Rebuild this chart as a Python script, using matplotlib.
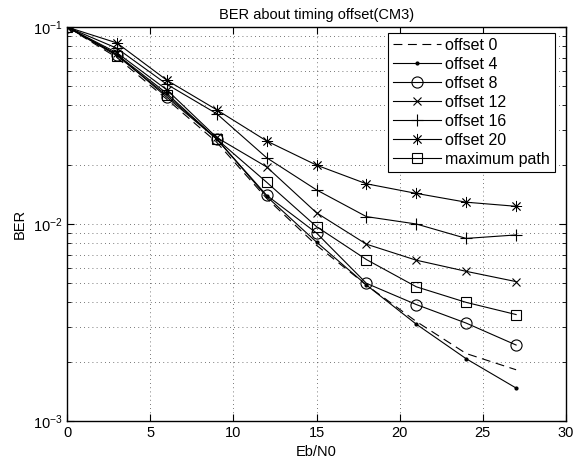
import matplotlib
matplotlib.use('Agg')
import matplotlib.pyplot as plt
import numpy as np

plt.rcParams['font.family'] = ['Liberation Sans', 'DejaVu Sans']
plt.rcParams['font.size'] = 10
plt.rcParams['mathtext.fontset'] = 'custom'
plt.rcParams['mathtext.rm'] = 'Liberation Sans'
plt.rcParams['mathtext.it'] = 'Liberation Sans:italic'
plt.rcParams['mathtext.bf'] = 'Liberation Sans:bold'

# Eb/N0 points and BER curves
ebn0 = [0, 3, 6, 9, 12, 15, 18, 21, 24, 27]

offset_0 = [0.1, 0.070, 0.043, 0.026, 0.0135, 0.0078, 0.0049, 0.0032, 0.0022, 0.00182]
offset_4 = [0.1, 0.0725, 0.046, 0.027, 0.0138, 0.0081, 0.0049, 0.0031, 0.00207, 0.00147]
offset_8 = [0.1, 0.0725, 0.044, 0.027, 0.0140, 0.0090, 0.0050, 0.0039, 0.00314, 0.00243]
offset_12 = [0.1, 0.074, 0.048, 0.0275, 0.0195, 0.0114, 0.0079, 0.00655, 0.00575, 0.0051]
offset_16 = [0.1, 0.078, 0.0512, 0.0363, 0.0217, 0.0149, 0.0109, 0.0100, 0.00845, 0.0088]
offset_20 = [0.1, 0.083, 0.0537, 0.038, 0.0264, 0.0199, 0.0160, 0.0143, 0.0129, 0.0123]
max_path = [0.1, 0.0715, 0.045, 0.027, 0.0163, 0.0097, 0.0066, 0.0048, 0.0040, 0.00347]

labels = ['offset 0', 'offset 4', 'offset 8', 'offset 12', 'offset 16', 'offset 20', 'maximum path']

fig = plt.figure(figsize=(5.8, 4.66), dpi=100)
ax = fig.add_axes([67/580, 1 - 421/466, (566 - 67)/580, (421 - 27)/466])

lw = 0.8
star = (8, 2, 0)  # asterisk like matlab's '*'
ax.semilogy(ebn0, offset_0, color='k', linestyle=(0, (8, 5)), lw=lw, label=labels[0])
ax.semilogy(ebn0, offset_4, 'k-', marker='.', ms=4, lw=lw, label=labels[1])
ax.semilogy(ebn0, offset_8, 'k-', marker='o', ms=8, mfc='none', mew=0.8, lw=lw, label=labels[2])
ax.semilogy(ebn0, offset_12, 'k-', marker='x', ms=6, mew=0.8, lw=lw, label=labels[3])
ax.semilogy(ebn0, offset_16, 'k-', marker='+', ms=9, mew=0.8, lw=lw, label=labels[4])
ax.semilogy(ebn0, offset_20, 'k-', marker=star, ms=8, mew=0.6, lw=lw, label=labels[5])
ax.semilogy(ebn0, max_path, 'k-', marker='s', ms=7, mfc='none', mew=0.8, lw=lw, label=labels[6])

ax.set_xlim(0, 30)
ax.set_ylim(1e-3, 1e-1)
ax.set_xticks([0, 5, 10, 15, 20, 25, 30])

grid_style = dict(linestyle=(0, (1, 4)), color='k', lw=0.6, alpha=0.7)
ax.grid(True, which='major', **grid_style)
ax.grid(True, which='minor', axis='y', **grid_style)
ax.tick_params(which='both', direction='in', top=True, right=True, labelsize=10.5)
ax.tick_params(which='major', length=5)
ax.tick_params(which='minor', length=3)
ax.tick_params(axis='x', which='minor', bottom=False, top=False)
for s in ax.spines.values():
    s.set_linewidth(1.0)

ax.set_title('BER about timing offset(CM3)', fontsize=10.5, pad=6)
ax.set_xlabel('Eb/N0', fontsize=10.5, labelpad=4)
ax.set_ylabel('BER', fontsize=10.5, labelpad=4)

leg = ax.legend(loc='upper right', bbox_to_anchor=(555/580, 1 - 33/466), bbox_transform=fig.transFigure,
                fancybox=False, framealpha=1, edgecolor='k', fontsize=11.5,
                handlelength=3.0, labelspacing=0.25, borderpad=0.3, handletextpad=0.3,
                borderaxespad=0)
leg.get_frame().set_linewidth(0.8)

fig.savefig('out.png', dpi=100)
